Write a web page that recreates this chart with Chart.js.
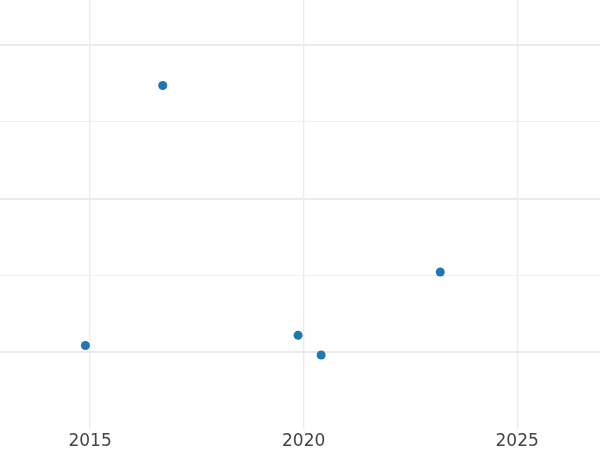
<!DOCTYPE html>
<html>
<head>
<meta charset="utf-8">
<script src="https://cdn.jsdelivr.net/npm/chart.js@4/dist/chart.umd.min.js"></script>
<style>
html,body{margin:0;padding:0;background:#fff;}
#wrap{width:600px;height:450px;}
</style>
</head>
<body>
<div id="wrap"><canvas id="c" width="600" height="450"></canvas></div>
<script>
const years = [2014.89, 2016.70, 2019.87, 2020.41, 2023.20];
const values = [10.44, 27.37, 11.11, 9.82, 15.23];
const xTicks = [2015, 2020, 2025];
const yTicks = [10, 15, 20, 25, 30];
const yMajor = [10, 20, 30];

const points = years.map((x, i) => ({x: x, y: values[i]}));

new Chart(document.getElementById('c'), {
  type: 'scatter',
  data: {
    datasets: [{
      data: points,
      backgroundColor: '#1f77b4',
      borderColor: '#1f77b4',
      pointRadius: 4.5,
      pointHoverRadius: 4.5,
      borderWidth: 0
    }]
  },
  options: {
    responsive: false,
    animation: false,
    layout: {padding: {left: 0, right: 0, top: 0, bottom: -5}, autoPadding: false},
    plugins: {legend: {display: false}, tooltip: {enabled: false}},
    scales: {
      x: {
        type: 'linear',
        min: 2012.89,
        max: 2026.94,
        afterBuildTicks: s => { s.ticks = xTicks.map(v => ({value: v})); },
        border: {display: false},
        grid: {color: '#ebebeb', lineWidth: 1.3, drawTicks: false},
        ticks: {
          padding: 3,
          color: '#444444',
          font: {family: 'DejaVu Sans', size: 17},
          callback: v => String(v)
        }
      },
      y: {
        type: 'linear',
        min: 5.03,
        max: 32.94,
        afterBuildTicks: s => { s.ticks = yTicks.map(v => ({value: v})); },
        border: {display: false},
        grid: {
          drawTicks: false,
          color: ctx => yMajor.includes(ctx.tick && ctx.tick.value) ? '#ebebeb' : '#f0f0f0',
          lineWidth: ctx => yMajor.includes(ctx.tick && ctx.tick.value) ? 2 : 1
        },
        ticks: {display: false}
      }
    }
  }
});
</script>
</body>
</html>
